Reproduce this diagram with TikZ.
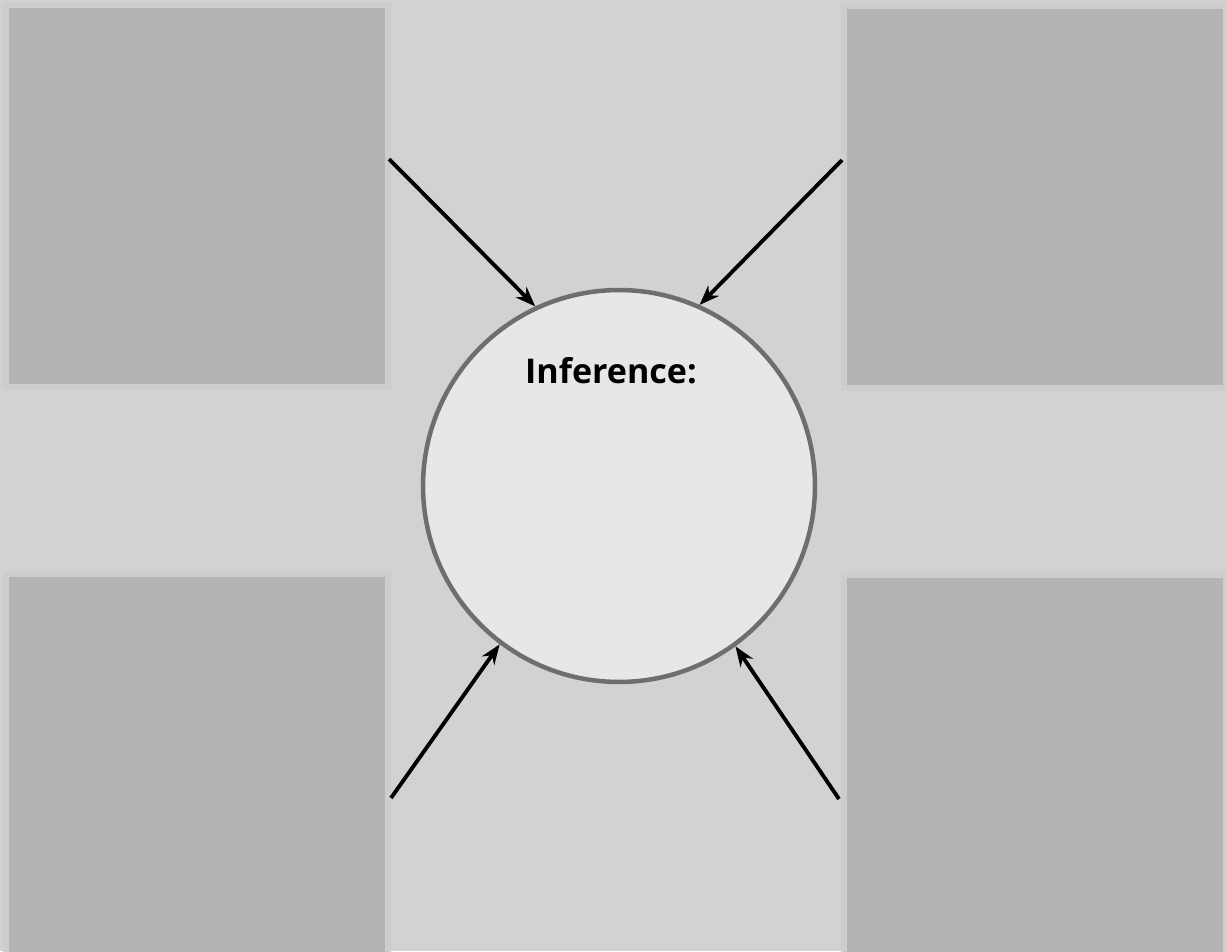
\documentclass[tikz,border=0pt]{standalone}
\usepackage{fontspec}
\setmainfont{Open Sans}
\usetikzlibrary{arrows.meta, positioning}
\definecolor{bggray}{HTML}{D2D2D2}
\definecolor{panelgray}{HTML}{B4B4B4}
\definecolor{panelrim}{HTML}{CDCDCD}
\definecolor{ringgray}{HTML}{6E6E6E}
\definecolor{infgray}{HTML}{E7E7E7}

\begin{document}
\begin{tikzpicture}[x=0.02cm, y=-0.02cm, >={Stealth[length=0.4cm, width=0.3cm]}]
\tikzset{
  panel/.style={rectangle, fill=panelgray, draw=panelrim, line width=0.12cm,
    minimum width=7.64cm, minimum height=7.64cm, inner sep=0pt},
  feed/.style={->, black, line width=2.2pt},
}

% Background
\fill[bggray] (0,0) rectangle (1225,951);
\useasboundingbox (0,0) rectangle (1225,951);

% Corner panels
\node[panel] (tl) at (197,196) {};
\node[panel] (tr) at (1035,197) {};
\node[panel] (bl) at (197,765) {};
\node[panel] (br) at (1035,766) {};

% Inference circle
\node[circle, fill=infgray, draw=ringgray, line width=0.09cm,
  minimum size=7.84cm, inner sep=0pt] (inf) at (619,486) {};
\node[font=\fontsize{19.4}{23}\selectfont\bfseries] (inflabel) at (611,371) {Inference:};

% Arrows into the circle
\coordinate (tlfoot) at (389,159);
\coordinate (trfoot) at (842,160);
\coordinate (blfoot) at (391,798);
\coordinate (brfoot) at (839,799);
\draw[feed] (tlfoot) -- (inf.115);
\draw[feed] (trfoot) -- (inf.66);
\draw[feed] (blfoot) -- (inf.233);
\draw[feed] (brfoot) -- (inf.306);

\end{tikzpicture}
\end{document}
